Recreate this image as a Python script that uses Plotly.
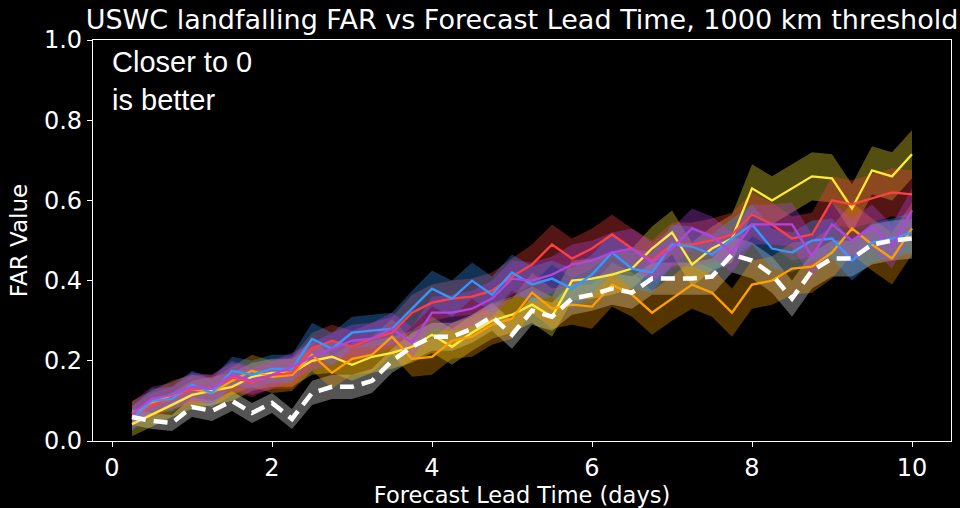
import plotly.graph_objects as go

# Forecast lead times (days)
lead_days = [0.25, 0.5, 0.75, 1.0, 1.25, 1.5, 1.75, 2.0, 2.25, 2.5,
             2.75, 3.0, 3.25, 3.5, 3.75, 4.0, 4.25, 4.5, 4.75, 5.0,
             5.25, 5.5, 5.75, 6.0, 6.25, 6.5, 6.75, 7.0, 7.25, 7.5,
             7.75, 8.0, 8.25, 8.5, 8.75, 9.0, 9.25, 9.5, 9.75, 10.0]

# FAR per model
far_yellow = [0.042, 0.065, 0.09, 0.115, 0.125, 0.135, 0.16, 0.17, 0.17, 0.20,
              0.21, 0.19, 0.21, 0.22, 0.235, 0.265, 0.235, 0.27, 0.30, 0.315,
              0.34, 0.31, 0.40, 0.405, 0.415, 0.43, 0.48, 0.52, 0.44, 0.48,
              0.505, 0.63, 0.60, 0.63, 0.66, 0.655, 0.58, 0.675, 0.66, 0.715]
far_orange = [0.07, 0.095, 0.115, 0.13, 0.12, 0.15, 0.175, 0.16, 0.165, 0.215,
              0.17, 0.205, 0.215, 0.26, 0.205, 0.21, 0.25, 0.26, 0.29, 0.305,
              0.37, 0.33, 0.34, 0.335, 0.39, 0.365, 0.32, 0.355, 0.39, 0.37,
              0.32, 0.39, 0.40, 0.43, 0.435, 0.47, 0.53, 0.49, 0.455, 0.53]
far_red = [0.06, 0.09, 0.105, 0.13, 0.13, 0.16, 0.145, 0.165, 0.17, 0.23,
           0.25, 0.235, 0.255, 0.27, 0.32, 0.345, 0.355, 0.36, 0.375, 0.41,
           0.44, 0.49, 0.455, 0.48, 0.515, 0.48, 0.45, 0.49, 0.49, 0.50,
           0.515, 0.565, 0.54, 0.505, 0.515, 0.60, 0.59, 0.605, 0.62, 0.615]
far_blue = [0.055, 0.10, 0.105, 0.14, 0.12, 0.175, 0.165, 0.18, 0.18, 0.255,
            0.23, 0.27, 0.275, 0.28, 0.33, 0.38, 0.355, 0.40, 0.365, 0.42,
            0.39, 0.405, 0.38, 0.415, 0.47, 0.43, 0.42, 0.49, 0.485, 0.465,
            0.505, 0.54, 0.48, 0.47, 0.50, 0.505, 0.45, 0.495, 0.505, 0.52]
far_purple = [0.067, 0.105, 0.115, 0.135, 0.13, 0.165, 0.15, 0.165, 0.185, 0.21,
              0.23, 0.25, 0.255, 0.28, 0.245, 0.32, 0.32, 0.33, 0.355, 0.405,
              0.40, 0.415, 0.44, 0.45, 0.47, 0.48, 0.445, 0.48, 0.53, 0.51,
              0.47, 0.54, 0.54, 0.54, 0.46, 0.54, 0.50, 0.535, 0.485, 0.575]
far_mean = [0.06, 0.05, 0.045, 0.085, 0.075, 0.10, 0.07, 0.095, 0.055, 0.12,
            0.135, 0.135, 0.15, 0.20, 0.235, 0.26, 0.26, 0.28, 0.31, 0.265,
            0.325, 0.31, 0.355, 0.365, 0.38, 0.37, 0.405, 0.405, 0.405, 0.41,
            0.465, 0.45, 0.415, 0.355, 0.425, 0.455, 0.455, 0.49, 0.50, 0.505]

# Half-width of the uncertainty band around each curve
spread_yellow = [0.03, 0.03, 0.03, 0.035, 0.035, 0.035, 0.035, 0.035, 0.035, 0.035,
                 0.04, 0.04, 0.04, 0.04, 0.04, 0.045, 0.045, 0.045, 0.045, 0.045,
                 0.045, 0.05, 0.05, 0.05, 0.05, 0.05, 0.055, 0.055, 0.055, 0.055,
                 0.06, 0.06, 0.06, 0.06, 0.06, 0.06, 0.06, 0.06, 0.06, 0.06]
spread_orange = [0.03, 0.03, 0.035, 0.035, 0.035, 0.035, 0.04, 0.04, 0.04, 0.04,
                 0.04, 0.04, 0.045, 0.045, 0.045, 0.045, 0.045, 0.05, 0.05, 0.05,
                 0.05, 0.05, 0.05, 0.055, 0.055, 0.055, 0.055, 0.055, 0.06, 0.06,
                 0.06, 0.06, 0.06, 0.065, 0.065, 0.065, 0.065, 0.065, 0.065, 0.065]
spread_red = [0.03, 0.03, 0.03, 0.035, 0.035, 0.035, 0.035, 0.035, 0.04, 0.04,
              0.04, 0.04, 0.04, 0.04, 0.045, 0.045, 0.045, 0.045, 0.045, 0.045,
              0.05, 0.05, 0.05, 0.05, 0.05, 0.05, 0.05, 0.055, 0.055, 0.055,
              0.055, 0.055, 0.055, 0.055, 0.055, 0.06, 0.06, 0.06, 0.06, 0.06]
spread_blue = [0.03, 0.03, 0.03, 0.035, 0.035, 0.035, 0.035, 0.035, 0.035, 0.04,
               0.04, 0.04, 0.04, 0.04, 0.045, 0.045, 0.045, 0.045, 0.045, 0.045,
               0.045, 0.045, 0.05, 0.05, 0.05, 0.05, 0.05, 0.05, 0.05, 0.05,
               0.05, 0.05, 0.05, 0.05, 0.05, 0.05, 0.05, 0.05, 0.05, 0.05]
spread_purple = [0.03, 0.03, 0.03, 0.035, 0.035, 0.035, 0.035, 0.035, 0.035, 0.035,
                 0.04, 0.04, 0.04, 0.04, 0.04, 0.04, 0.045, 0.045, 0.045, 0.045,
                 0.045, 0.045, 0.05, 0.05, 0.05, 0.05, 0.05, 0.05, 0.05, 0.05,
                 0.05, 0.05, 0.05, 0.055, 0.055, 0.055, 0.055, 0.055, 0.055, 0.055]
spread_mean = [0.02, 0.02, 0.02, 0.025, 0.025, 0.025, 0.025, 0.025, 0.025, 0.03,
               0.03, 0.03, 0.03, 0.03, 0.035, 0.035, 0.035, 0.035, 0.035, 0.035,
               0.035, 0.035, 0.04, 0.04, 0.04, 0.04, 0.04, 0.04, 0.04, 0.045,
               0.045, 0.045, 0.045, 0.045, 0.045, 0.045, 0.045, 0.05, 0.05, 0.05]

series = [
    (far_yellow, spread_yellow, (255, 236, 51)),
    (far_orange, spread_orange, (255, 160, 0)),
    (far_red, spread_red, (255, 64, 64)),
    (far_blue, spread_blue, (51, 153, 255)),
    (far_purple, spread_purple, (178, 68, 224)),
]

fig = go.Figure()


def add_band(vals, spread, rgb, alpha):
    upper = [v + s for v, s in zip(vals, spread)]
    lower = [v - s for v, s in zip(vals, spread)]
    fig.add_trace(go.Scatter(
        x=lead_days + lead_days[::-1],
        y=upper + lower[::-1],
        fill="toself",
        fillcolor=f"rgba({rgb[0]},{rgb[1]},{rgb[2]},{alpha})",
        line=dict(width=0),
        mode="lines",
        hoverinfo="skip",
        showlegend=False,
    ))


add_band(far_mean, spread_mean, (255, 255, 255), 0.33)
for vals, spread, rgb in series:
    add_band(vals, spread, rgb, 0.33)

for vals, spread, rgb in series:
    fig.add_trace(go.Scatter(
        x=lead_days, y=vals, mode="lines",
        line=dict(color=f"rgb({rgb[0]},{rgb[1]},{rgb[2]})", width=2.3),
        showlegend=False,
    ))

fig.add_trace(go.Scatter(
    x=lead_days, y=far_mean, mode="lines",
    line=dict(color="white", width=4.5, dash="14px,8px"),
    showlegend=False,
))

axis_common = dict(
    showgrid=False, zeroline=False, automargin=False,
    showline=True, linecolor="white", linewidth=1.2, mirror=True,
    ticks="outside", ticklen=5, tickwidth=1.2, tickcolor="white",
    tickfont=dict(family="DejaVu Sans", size=24, color="white"),
)

fig.update_layout(
    width=960, height=508,
    paper_bgcolor="black", plot_bgcolor="black",
    margin=dict(l=93, r=9, t=40, b=67, autoexpand=False),
    title=dict(
        text="USWC landfalling FAR vs Forecast Lead Time, 1000 km threshold",
        font=dict(family="DejaVu Sans", size=27, color="white"),
        x=(93 + 951) / 2 / 960, xanchor="center",
        y=1 - 20 / 508, yanchor="middle",
    ),
    xaxis=dict(
        range=[-0.2375, 10.4875],
        tickvals=[0, 2, 4, 6, 8, 10],
        title=dict(text="Forecast Lead Time (days)",
                   font=dict(family="DejaVu Sans", size=22.5, color="white"),
                   standoff=9),
        **axis_common,
    ),
    yaxis=dict(
        range=[0, 1],
        tickvals=[0, 0.2, 0.4, 0.6, 0.8, 1.0],
        tickformat=".1f",
        title=dict(text="FAR Value",
                   font=dict(family="DejaVu Sans", size=23, color="white"),
                   standoff=9),
        **axis_common,
    ),
    annotations=[dict(
        text="Closer to 0<br>is better",
        xref="paper", yref="paper", x=0.02, y=0.99,
        xanchor="left", yanchor="top", align="left", showarrow=False,
        font=dict(family="Liberation Sans", size=29, color="white"),
    )],
)

fig.write_html("out.html")
